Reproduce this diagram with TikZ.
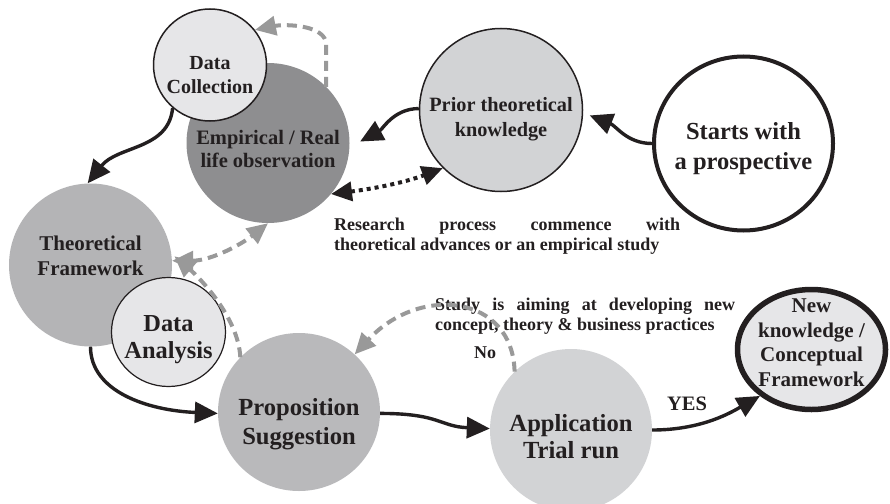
\documentclass[tikz,border=0pt]{standalone}
\usepackage{fontspec}
\setmainfont{Liberation Serif}
\usetikzlibrary{arrows.meta,shapes.geometric,calc}
\definecolor{ink}{HTML}{231F20}
\definecolor{gdark}{HTML}{8E8E90}
\definecolor{gmid}{HTML}{B4B4B6}
\definecolor{gprop}{HTML}{B9B9BB}
\definecolor{glight}{HTML}{D2D3D5}
\definecolor{gpale}{HTML}{E6E6E8}
\definecolor{gline}{HTML}{999999}
\begin{document}
\begin{tikzpicture}[x=1pt,y=-1pt,
  bubble/.style={ellipse, inner sep=0pt},
  txt/.style={text=ink, align=center, inner sep=0pt},
  blk/.style={draw=ink, line width=3.4pt, -{Triangle[length=23pt,width=21pt]}},
  gdash/.style={draw=gline, line width=4pt, dash pattern=on 10pt off 6pt, -{Triangle[length=21pt,width=19pt]}},
  gdashb/.style={draw=gline, line width=4pt, dash pattern=on 10pt off 6pt, {Triangle[length=21pt,width=19pt]}-{Triangle[length=21pt,width=19pt]}},
  dots/.style={draw=ink, line width=4pt, dash pattern=on 4pt off 4pt, {Triangle[length=21pt,width=19pt]}-{Triangle[length=21pt,width=19pt]}},
  note/.style={text=ink, font=\bfseries\fontsize{18}{20}\selectfont, align=justify, inner sep=0pt}
]
\useasboundingbox (0,0) rectangle (890,503);
\fill[white] (0,0) rectangle (890,503);

% circles
\node[bubble, minimum width=163, minimum height=160, fill=gdark,
  label={[txt, font=\bfseries\fontsize{20.5}{23}\selectfont, yshift=-6pt]center:{Empirical / Real\\life observation}}] (emp) at (268,143) {};
\node[bubble, minimum width=113, minimum height=112, fill=gpale, draw=ink, line width=1.5pt,
  label={[txt, font=\bfseries\fontsize{20}{24}\selectfont, yshift=-10pt]center:{Data\\Collection}}] (dc) at (210,65) {};
\node[bubble, minimum width=163, minimum height=163, fill=glight, draw=ink, line width=1.5pt,
  label={[txt, font=\bfseries\fontsize{20.3}{25}\selectfont, yshift=-9pt]center:{Prior theoretical\\knowledge}}] (prior) at (501,110) {};
\node[bubble, minimum width=179, minimum height=174, fill=white, draw=ink, line width=4pt,
  label={[txt, font=\bfseries\fontsize{24.5}{30}\selectfont, yshift=-5pt]center:{Starts with\\a prospective}}] (start) at (743.5,143.5) {};
\node[bubble, minimum width=163, minimum height=163, fill=gmid,
  label={[txt, font=\bfseries\fontsize{21}{25}\selectfont, yshift=9pt]center:{Theoretical\\Framework}}] (theo) at (90.5,265) {};
\node[bubble, minimum width=114, minimum height=109, fill=gpale, draw=ink, line width=1.2pt,
  label={[txt, font=\bfseries\fontsize{24.4}{27}\selectfont, yshift=-8pt]center:{Data\\Analysis}}] (da) at (168.5,332) {};
\node[bubble, minimum width=162, minimum height=158, fill=gprop,
  label={[txt, font=\bfseries\fontsize{24.6}{29}\selectfont, yshift=-12pt]center:{Proposition\\Suggestion}}] (prop) at (299,412) {};
\node[bubble, minimum width=162, minimum height=162, fill=glight,
  label={[txt, font=\bfseries\fontsize{24.6}{27}\selectfont, yshift=-7pt]center:{Application\\Trial run}}] (app) at (571,430) {};
\node[bubble, minimum width=148, minimum height=120, fill=gpale, draw=ink, line width=5.5pt,
  label={[txt, font=\bfseries\fontsize{21}{24.5}\selectfont, yshift=7pt]center:{New\\knowledge /\\Conceptual\\Framework}}] (new) at (811.5,349.5) {};

% notes
\node[note, text width=346, anchor=west] (n1) at (334,236)
  {Research process commence with\linebreak theoretical advances or an empirical study};
\node[note, text width=300, anchor=west] (n2) at (435,316)
  {Study is aiming at developing new\linebreak concept, theory \& business practices};
\node[txt, font=\bfseries\fontsize{18}{20}\selectfont] (no) at (485,353) {No};
\node[txt, font=\bfseries\fontsize{20.5}{22}\selectfont] (yes) at (687,404) {YES};

% connectors
\draw[blk, shorten >=7pt] (start.180) .. controls +(-25,0) and +(33,13) .. (prior.-2);
\draw[blk, shorten >=12pt] (prior.179) .. controls +(-25,0) and +(33,-18) .. (emp.-3);
\draw[dots] (emp.-39) .. controls +(40,-5) and +(-40,15) .. (prior.225);
\draw[gdash] (emp.44) -- ++(0,-42) .. controls +(0,-20) and +(30,-6) .. (dc.38);
\draw[blk] (dc.229) .. controls +(-4,42) and +(30,-38) .. (theo.92);
\draw[gdashb] (theo.3) .. controls +(40,0) and +(-25,20) .. (emp.-90);
\draw[gdash, shorten >=4pt] (prop.137) .. controls +(-2,-40) and +(28,24) .. (theo.8);
\draw[blk] (theo.-90) .. controls +(0,45) and +(-70,-3) .. (prop.181);
\draw[blk] (prop.-1) .. controls +(60,0) and +(-50,-2) .. (app.179);
\draw[gdash] (app.134) .. controls +(-2,-77) and +(65,-70) .. (prop.46);
\draw[blk] (app.0) .. controls +(50,0) and +(-28,16) .. (new.222);
\end{tikzpicture}
\end{document}
